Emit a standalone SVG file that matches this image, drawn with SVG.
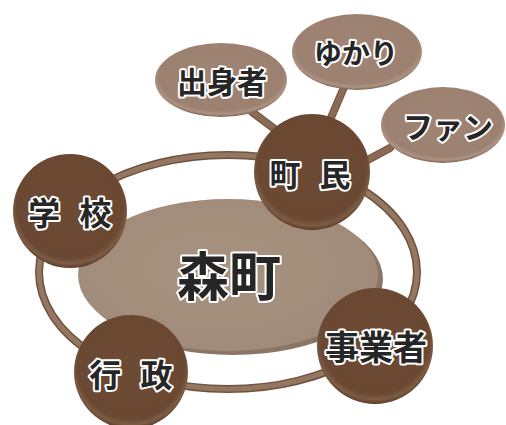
<svg xmlns="http://www.w3.org/2000/svg" width="506" height="425" viewBox="0 0 506 425">
<defs>
<radialGradient id="gCircle" cx="50%" cy="45%" r="55%">
<stop offset="0" stop-color="#6c4a33"/>
<stop offset="0.85" stop-color="#6a4832"/>
<stop offset="0.93" stop-color="#7d5c45"/>
<stop offset="1" stop-color="#5a3c29"/>
</radialGradient>
<radialGradient id="gSmall" cx="50%" cy="45%" r="55%">
<stop offset="0" stop-color="#a08575"/>
<stop offset="0.85" stop-color="#9c8070"/>
<stop offset="0.93" stop-color="#ad9384"/>
<stop offset="1" stop-color="#7c6252"/>
</radialGradient>
<radialGradient id="gInner" cx="45%" cy="45%" r="55%">
<stop offset="0" stop-color="#a8937f"/>
<stop offset="1" stop-color="#a08a7a"/>
</radialGradient>
</defs>
<style>
.ring{fill:none;stroke:#6e5140;stroke-width:8}
.ring2{fill:none;stroke:#957660;stroke-width:5}
.conn{stroke:#8a6a54;stroke-width:6;stroke-linecap:round}
.conn2{stroke:#6e5140;stroke-width:8;stroke-linecap:round}
.circ{fill:url(#gCircle)}
.small{fill:url(#gSmall)}
.lbl{font-family:"Noto Sans CJK JP","Noto Sans",sans-serif;font-weight:bold;fill:#262626;stroke:#ffffff;stroke-width:4;paint-order:stroke;stroke-linejoin:round;text-anchor:middle;dominant-baseline:central}
.sp{letter-spacing:6px}
</style>
<rect width="506" height="425" fill="#ffffff"/>
<g id="connectors">
<line class="conn2" x1="252" y1="112" x2="280" y2="133"/>
<line class="conn2" x1="345" y1="85" x2="330" y2="120"/>
<line class="conn2" x1="390" y1="148" x2="362" y2="163"/>
<line class="conn" x1="252" y1="112" x2="280" y2="133"/>
<line class="conn" x1="345" y1="85" x2="330" y2="120"/>
<line class="conn" x1="390" y1="148" x2="362" y2="163"/>
<ellipse class="ring" cx="228" cy="272" rx="189" ry="117"/>
<ellipse class="ring2" cx="228" cy="272" rx="189" ry="117"/>
</g>
<g id="morimachi">
<ellipse cx="233" cy="279" rx="150" ry="76" fill="#8a7566"/>
<ellipse cx="228" cy="275" rx="150" ry="76" fill="url(#gInner)"/>
<text class="lbl" x="229" y="273" font-size="52" stroke-width="5">森町</text>
</g>
<g id="shusshinsha">
<ellipse class="small" cx="221" cy="80" rx="66" ry="37"/>
<text class="lbl" x="222" y="80" font-size="30">出身者</text>
</g>
<g id="yukari">
<ellipse class="small" cx="357" cy="52" rx="65" ry="38"/>
<text class="lbl" x="356" y="52" font-size="28">ゆかり</text>
</g>
<g id="fan">
<ellipse class="small" cx="443" cy="125" rx="62" ry="38"/>
<text class="lbl" x="448" y="125" font-size="30">ファン</text>
</g>
<g id="chomin">
<circle class="circ" cx="312" cy="172" r="58"/>
<text class="lbl sp" x="313" y="172" font-size="31">町 民</text>
</g>
<g id="gakko">
<circle class="circ" cx="70" cy="211" r="57"/>
<text class="lbl sp" x="73" y="211" font-size="32">学 校</text>
</g>
<g id="gyosei">
<circle class="circ" cx="131" cy="372" r="57"/>
<text class="lbl sp" x="134" y="373" font-size="32">行 政</text>
</g>
<g id="jigyosha">
<circle class="circ" cx="375" cy="346" r="58"/>
<text class="lbl" x="376" y="345" font-size="34">事業者</text>
</g>
</svg>
